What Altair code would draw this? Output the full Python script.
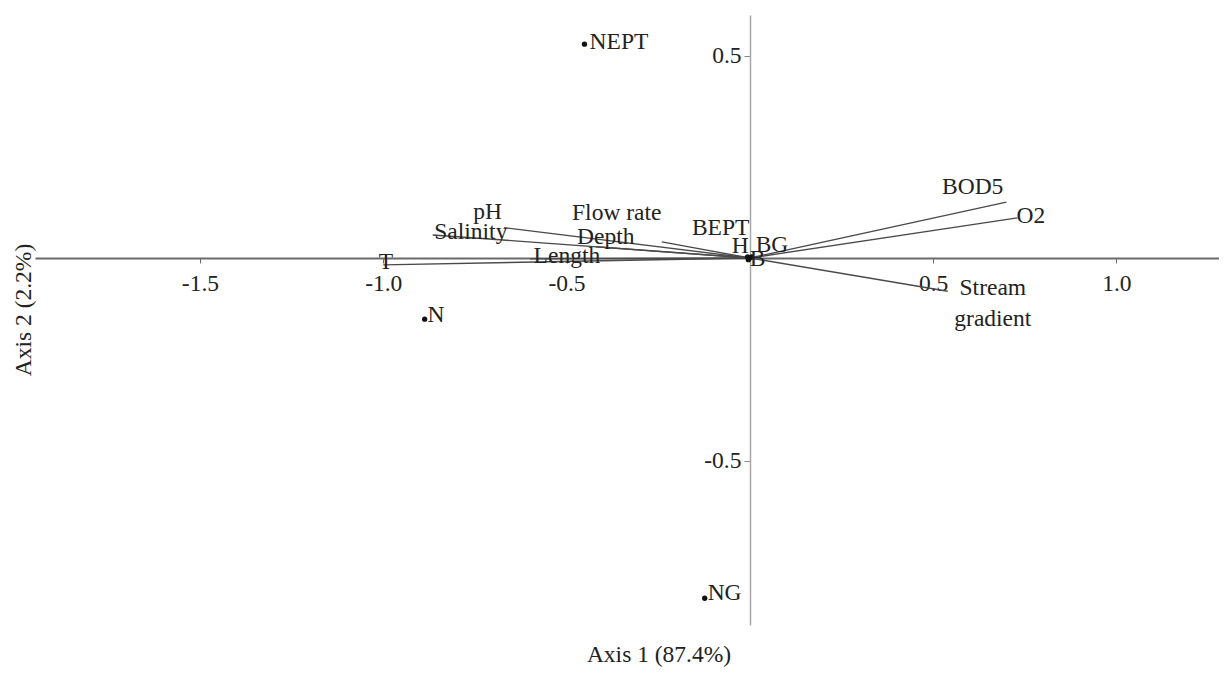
import altair as alt
import pandas as pd

# ---- data ----
var_names = ["pH", "Salinity", "T", "Flow rate", "Depth", "Length", "BOD5", "O2", "Stream gradient"]
var_x = [-0.67, -0.865, -1.00, -0.24, -0.42, -0.60, 0.70, 0.73, 0.54]
var_y = [0.075, 0.057, -0.017, 0.040, 0.028, -0.002, 0.138, 0.099, -0.082]
var_lab_x = [-0.715, -0.761, -0.993, -0.363, -0.393, -0.499, 0.608, 0.767, 0.663]
var_lab_y = [0.114, 0.064, -0.010, 0.111, 0.052, 0.005, 0.175, 0.104, -0.074]

pt_names = ["NEPT", "N", "NG", "B", "H", "BG", "BEPT"]
pt_x = [-0.451, -0.887, -0.123, 0.0, -0.006, 0.005, -0.004]
pt_y = [0.528, -0.151, -0.840, 0.0, 0.003, 0.003, -0.004]
pt_lab_x = [-0.437, -0.879, -0.115, 0.0, -0.049, 0.016, -0.158]
pt_lab_y = [0.516, -0.158, -0.844, -0.020, 0.012, 0.015, 0.057]

x_ticks = [-1.5, -1.0, -0.5, 0.5, 1.0]
y_ticks = [0.5, -0.5]
x_domain = [-1.95, 1.28]
y_domain = [-0.906, 0.6]
x_title = "Axis 1 (87.4%)"
y_title = "Axis 2 (2.2%)"

W, H = 1184, 610
FONT = "Liberation Serif"
FS = 23.5

vars_df = pd.DataFrame({
    "name": [n.split(" ") if n == "Stream gradient" else n for n in var_names],
    "x": var_x, "y": var_y, "lx": var_lab_x, "ly": var_lab_y,
    "ox": [0.0] * len(var_names), "oy": [0.0] * len(var_names),
})
pts_df = pd.DataFrame({"name": pt_names, "x": pt_x, "y": pt_y, "lx": pt_lab_x, "ly": pt_lab_y})

x_off = -round(W * (0 - x_domain[0]) / (x_domain[1] - x_domain[0]))
y_off = -round(H * (0 - y_domain[0]) / (y_domain[1] - y_domain[0]))

label_expr = "datum.value < 0 ? '-' + format(-datum.value, '.1f') : format(datum.value, '.1f')"

xs = alt.Scale(domain=x_domain, nice=False, zero=False)
ys = alt.Scale(domain=y_domain, nice=False, zero=False)

x_axis = alt.Axis(orient="bottom", offset=y_off, values=x_ticks, labelExpr=label_expr,
                  title=None, grid=False, domainColor="#6a6a6a", domainWidth=2,
                  tickColor="#6a6a6a", tickSize=5, tickWidth=1,
                  labelFont=FONT, labelFontSize=FS, labelColor="#222", labelPadding=8)
y_axis = alt.Axis(orient="left", offset=x_off, values=y_ticks, labelExpr=label_expr,
                  title=None, grid=False, domainColor="#a8a8a8", domainWidth=1.5,
                  tickColor="#888", tickSize=6, tickWidth=1,
                  labelFont=FONT, labelFontSize=FS, labelColor="#222", labelPadding=3)

base_v = alt.Chart(vars_df)

arrows = base_v.mark_rule(color="#4a4a4a", strokeWidth=1.4).encode(
    x=alt.X("ox:Q", scale=xs, axis=x_axis),
    y=alt.Y("oy:Q", scale=ys, axis=y_axis),
    x2="x:Q", y2="y:Q",
)

var_labels = base_v.mark_text(font=FONT, fontSize=FS, color="#222", align="center",
                              baseline="middle", lineHeight=31).encode(
    x=alt.X("lx:Q", scale=xs), y=alt.Y("ly:Q", scale=ys), text="name"
)

base_p = alt.Chart(pts_df)
dots = base_p.mark_circle(color="#111", size=28, opacity=1).encode(
    x=alt.X("x:Q", scale=xs), y=alt.Y("y:Q", scale=ys)
)
pt_labels = base_p.mark_text(font=FONT, fontSize=FS, color="#222", align="left",
                             baseline="alphabetic").encode(
    x=alt.X("lx:Q", scale=xs), y=alt.Y("ly:Q", scale=ys), text="name"
)

title_df = pd.DataFrame({"t": [x_title]})
ytitle_df = pd.DataFrame({"t": [y_title]})
xt = alt.Chart(title_df).mark_text(font=FONT, fontSize=FS, color="#222", align="center",
                                   baseline="middle").encode(
    text="t", x=alt.value(624), y=alt.value(640)
)
yt = alt.Chart(ytitle_df).mark_text(font=FONT, fontSize=FS, color="#222", align="center",
                                    baseline="middle", angle=270).encode(
    text="t", x=alt.value(-11), y=alt.value(295)
)

chart = alt.layer(arrows, var_labels, dots, pt_labels, xt, yt).properties(
    width=W, height=H,
    background="white",
    autosize=alt.AutoSizeParams(type="none"),
    padding={"left": 27, "top": 7, "right": 0, "bottom": 45},
).configure_view(strokeWidth=0, strokeOpacity=0)

chart.save("out.html", embed_options={"renderer": "svg", "actions": False})
